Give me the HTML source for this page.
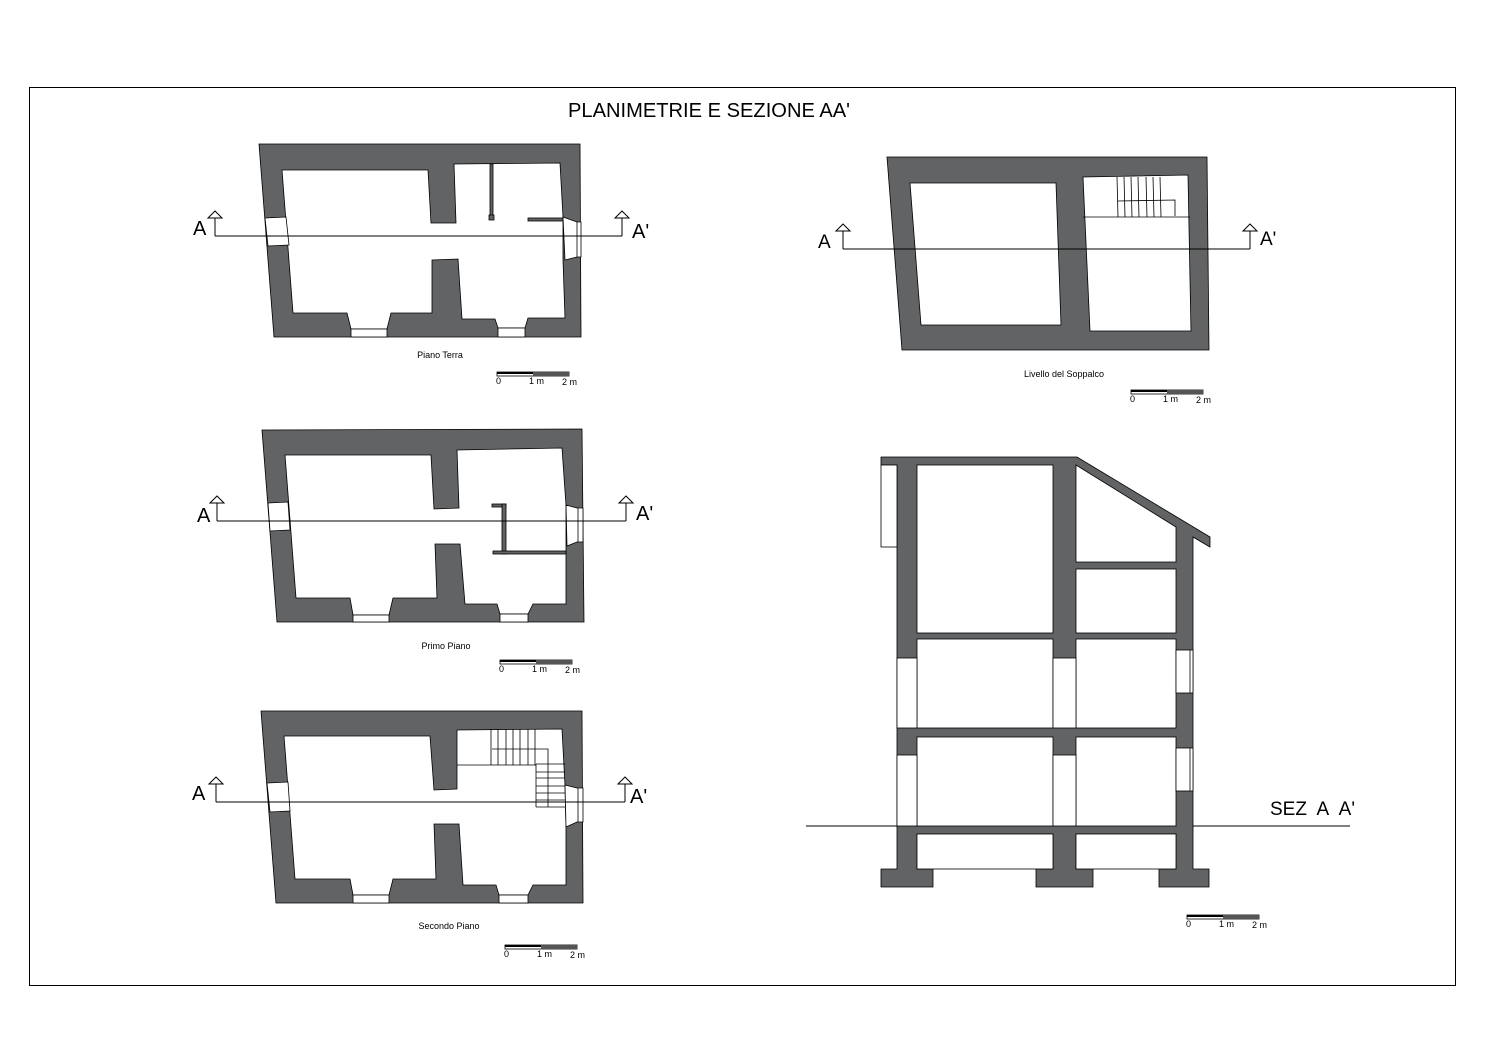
<!DOCTYPE html>
<html><head><meta charset="utf-8"><style>
html,body{margin:0;padding:0;background:#fff;}
svg{display:block;}
text{font-family:"Liberation Sans",Arial,sans-serif;fill:#000;}
</style></head><body>
<svg width="1500" height="1061" viewBox="0 0 1500 1061" xmlns="http://www.w3.org/2000/svg">
<defs>
<g id="arr"><line x1="0" y1="0" x2="0" y2="-23" stroke="#000" stroke-width="1"/><polygon points="0,-25 -7,-18 7,-18" fill="#fff" stroke="#000" stroke-width="1"/></g>
<g id="scale">
<rect x="0" y="0" width="72" height="4" fill="#fff" stroke="#000" stroke-width="0.8"/>
<rect x="0" y="0" width="36" height="2" fill="#000"/>
<rect x="36" y="0" width="36" height="4" fill="#555"/>
<text x="-1" y="12" font-size="9">0</text>
<text x="32" y="12" font-size="9">1 m</text>
<text x="65" y="13" font-size="9">2 m</text>
</g>
</defs>
<rect x="29.5" y="87.5" width="1426" height="898" fill="none" stroke="#000" stroke-width="1"/>
<text x="568" y="117" font-size="20" textLength="282" lengthAdjust="spacingAndGlyphs">PLANIMETRIE E SEZIONE AA'</text>

<g stroke="#000" stroke-width="0.8">
<!-- PIANO TERRA -->
<polygon points="259,144 580,144 581,337 274,337" fill="#626365"/>
<polygon points="282,170 428,170 431,223 456,223 454,164 560,163 563,217 563,260 565,318 528,318 525,328 498,328 495,319 462,319 458,259 432,260 432,313 391,313 387,329 351,329 347,313 293,313" fill="#fff"/>
<rect x="351" y="329" width="36" height="8" fill="#fff"/>
<rect x="498" y="328" width="27" height="9" fill="#fff"/>
<polygon points="265,218 286,217 289,245 268,246" fill="#fff"/>
<polygon points="563,217 577,222 581,222 581,257 577,257 565,260" fill="#fff"/>
<line x1="577" y1="222" x2="577" y2="257"/>
<rect x="490" y="164" width="3" height="55" fill="#626365"/>
<rect x="489" y="215" width="5" height="5" fill="#626365"/>
<rect x="528" y="218" width="35" height="3" fill="#626365"/>

<!-- PRIMO PIANO -->
<polygon points="262,430 582,429 584,622 277,622" fill="#626365"/>
<polygon points="285,455 431,455 434,509 459,508 457,450 562,448 566,505 566,545 566,604 533,604 528,614 500,614 497,604 465,604 460,544 435,544 437,598 393,598 389,615 353,615 350,598 296,598" fill="#fff"/>
<rect x="353" y="615" width="36" height="7" fill="#fff"/>
<rect x="500" y="614" width="28" height="8" fill="#fff"/>
<polygon points="268,503 288,502 290,530 270,531" fill="#fff"/>
<polygon points="566,505 577,508 583,508 583,542 577,542 567,546" fill="#fff"/>
<line x1="578" y1="508" x2="578" y2="542"/>
<rect x="492" y="504" width="14" height="3" fill="#626365"/>
<rect x="502" y="504" width="4" height="50" fill="#626365"/>
<rect x="493" y="551" width="73" height="3" fill="#626365"/>

<!-- SECONDO PIANO -->
<polygon points="261,711 582,711 583,903 276,903" fill="#626365"/>
<polygon points="284,736 430,736 434,790 457,789 457,730 562,729 565,785 566,827 566,885 533,885 528,895 499,895 496,885 463,885 459,824 434,824 436,879 393,879 389,895 353,895 350,879 295,879" fill="#fff"/>
<rect x="353" y="895" width="36" height="8" fill="#fff"/>
<rect x="499" y="895" width="29" height="8" fill="#fff"/>
<polygon points="267,783 288,782 290,811 270,812" fill="#fff"/>
<polygon points="565,785 577,788 583,788 583,822 577,822 566,827" fill="#fff"/>
<line x1="578" y1="788" x2="578" y2="822"/>
</g>
<g stroke="#000" stroke-width="0.8" fill="none">
<line x1="457" y1="765" x2="536" y2="765"/>
<line x1="491" y1="729" x2="491" y2="765"/><line x1="498" y1="729" x2="498" y2="765"/><line x1="506" y1="729" x2="506" y2="765"/><line x1="513" y1="729" x2="513" y2="765"/><line x1="520" y1="729" x2="520" y2="765"/><line x1="528" y1="729" x2="528" y2="765"/><line x1="535" y1="729" x2="535" y2="765"/>
<polyline points="492,749 548,749 548,807"/>
<line x1="536" y1="764" x2="536" y2="807"/>
<line x1="536" y1="764" x2="565" y2="764"/><line x1="536" y1="772" x2="565" y2="772"/><line x1="536" y1="778" x2="565" y2="778"/><line x1="536" y1="786" x2="565" y2="786"/><line x1="536" y1="793" x2="565" y2="793"/><line x1="536" y1="800" x2="565" y2="800"/><line x1="536" y1="807" x2="565" y2="807"/>
</g>

<!-- Section lines plans -->
<g stroke="#000" stroke-width="1">
<line x1="215" y1="236" x2="622" y2="236"/>
<line x1="217" y1="521" x2="626" y2="521"/>
<line x1="216" y1="802" x2="625" y2="802"/>
</g>
<use href="#arr" x="215" y="236"/><use href="#arr" x="622" y="236"/>
<use href="#arr" x="217" y="521"/><use href="#arr" x="626" y="521"/>
<use href="#arr" x="216" y="802"/><use href="#arr" x="625" y="802"/>
<text x="193" y="235" font-size="20">A</text><text x="632" y="238" font-size="20">A'</text>
<text x="197" y="522" font-size="20">A</text><text x="636" y="520" font-size="20">A'</text>
<text x="192" y="800" font-size="20">A</text><text x="630" y="803" font-size="20">A'</text>

<text x="440" y="358" font-size="9" text-anchor="middle">Piano Terra</text>
<text x="446" y="649" font-size="9" text-anchor="middle">Primo Piano</text>
<text x="449" y="929" font-size="9" text-anchor="middle">Secondo Piano</text>
<use href="#scale" x="497" y="372"/>
<use href="#scale" x="500" y="660"/>
<use href="#scale" x="505" y="945"/>

<!-- SOPPALCO -->
<g stroke="#000" stroke-width="0.8">
<polygon points="887,157 1207,157 1209,350 902,350" fill="#626365"/>
<polygon points="910,183 1056,183 1061,325 921,325" fill="#fff"/>
<polygon points="1083,177 1188,175 1191,331 1090,331" fill="#fff"/>
</g>
<g stroke="#000" stroke-width="0.8" fill="none">
<line x1="1083" y1="217" x2="1190" y2="217"/>
<line x1="1117" y1="177" x2="1118" y2="217"/><line x1="1124" y1="177" x2="1125" y2="217"/><line x1="1131" y1="177" x2="1132" y2="217"/><line x1="1138" y1="177" x2="1139" y2="217"/><line x1="1146" y1="177" x2="1147" y2="217"/><line x1="1153" y1="177" x2="1154" y2="217"/><line x1="1160" y1="177" x2="1161" y2="217"/>
<polyline points="1118,201 1175,200 1175,216"/>
</g>
<line x1="843" y1="249" x2="1250" y2="249" stroke="#000" stroke-width="1"/>
<use href="#arr" x="843" y="249"/><use href="#arr" x="1250" y="249"/>
<text x="818" y="248" font-size="19">A</text><text x="1260" y="245" font-size="19">A'</text>
<text x="1064" y="377" font-size="9" text-anchor="middle">Livello del Soppalco</text>
<use href="#scale" x="1131" y="390"/>

<!-- SEZIONE -->
<g stroke="#000" stroke-width="0.8">
<line x1="806" y1="826" x2="1350" y2="826" stroke-width="1"/>
<polygon points="881,457 1077,457 1210,537 1210,547 1193,537 1193,869 1209,869 1209,887 1159,887 1159,869 1176,869 1176,834 1076,834 1076,869 1093,869 1093,887 1036,887 1036,869 1053,869 1053,834 917,834 917,869 933,869 933,887 881,887 881,869 897,869 897,465 881,465" fill="#626365"/>
<rect x="881" y="465" width="16" height="82" fill="#fff"/>
<polygon points="1076,465 1176,527 1176,562 1076,562" fill="#fff"/>
<rect x="1076" y="569" width="100" height="64" fill="#fff"/>
<rect x="917" y="465" width="136" height="168" fill="#fff"/>
<rect x="917" y="639" width="136" height="89" fill="#fff"/>
<rect x="1076" y="639" width="100" height="89" fill="#fff"/>
<rect x="917" y="737" width="136" height="89" fill="#fff"/>
<rect x="1076" y="737" width="100" height="89" fill="#fff"/>
<rect x="917" y="834" width="136" height="35" fill="#fff"/>
<rect x="1076" y="834" width="100" height="35" fill="#fff"/>
<rect x="897" y="658" width="20" height="70" fill="#fff"/>
<rect x="897" y="755" width="20" height="71" fill="#fff"/>
<rect x="1053" y="658" width="23" height="70" fill="#fff"/>
<rect x="1053" y="755" width="23" height="71" fill="#fff"/>
<rect x="1176" y="650" width="17" height="43" fill="#fff"/>
<rect x="1176" y="748" width="17" height="43" fill="#fff"/>
<line x1="1190" y1="650" x2="1190" y2="693"/>
<line x1="1190" y1="748" x2="1190" y2="791"/>
</g>
<text x="1270" y="815" font-size="19">SEZ&#160; A&#160; A'</text>
<use href="#scale" x="1187" y="915"/>
</svg>
</body></html>
